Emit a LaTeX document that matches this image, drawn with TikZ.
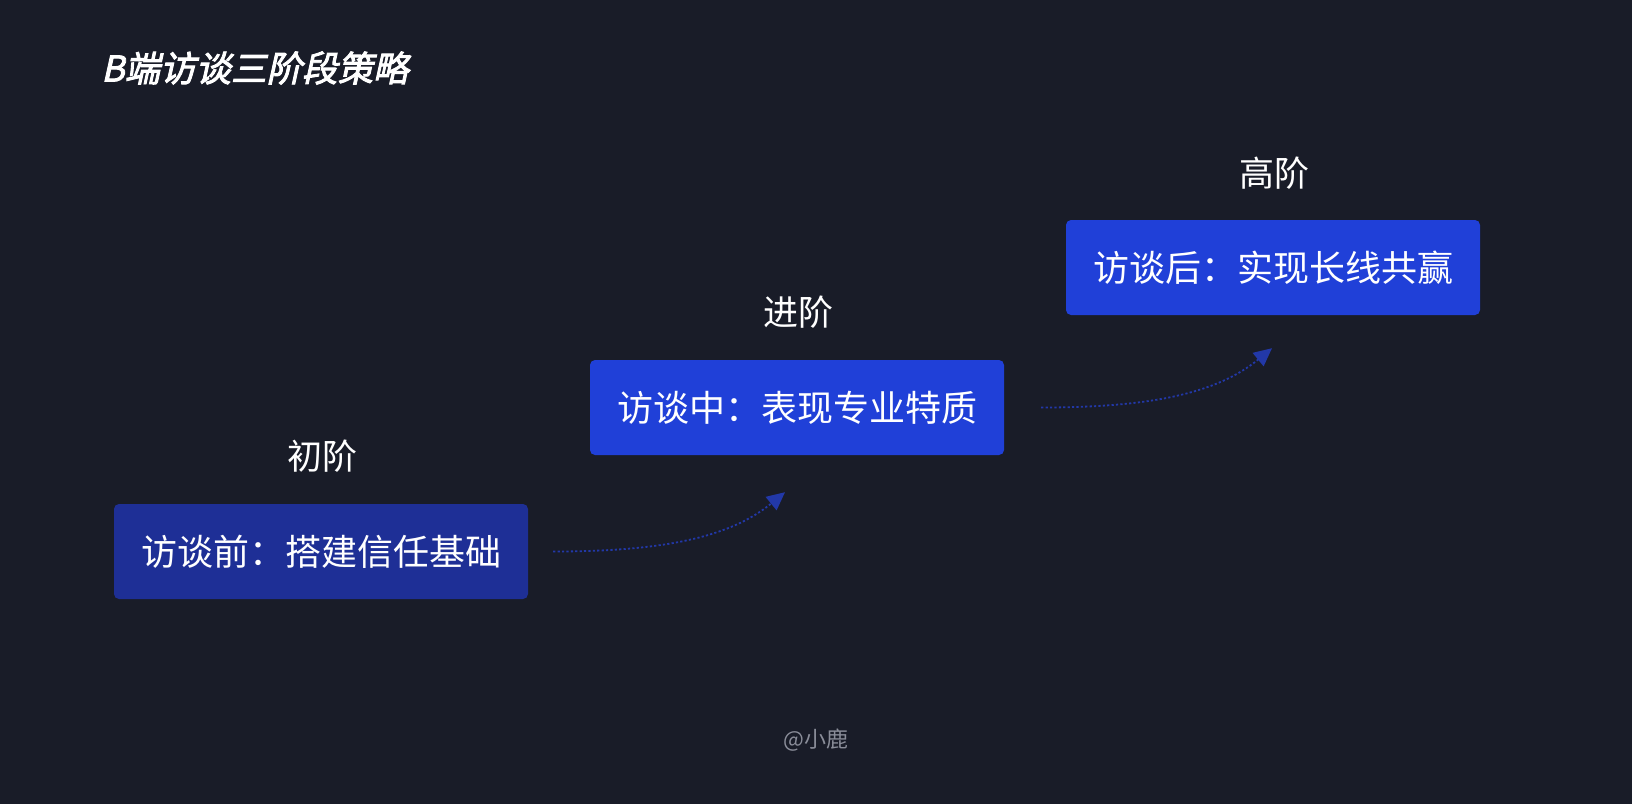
\documentclass[tikz,border=0pt]{standalone}
\usepackage{fontspec}
\usetikzlibrary{arrows.meta}
\newfontfamily\cjk{Noto Sans CJK SC}
\newfontfamily\cjktitle[FakeSlant=0.22,FakeBold=2.5]{Noto Sans CJK SC}
\definecolor{bgc}{HTML}{191C28}
\definecolor{boxdark}{HTML}{1E2F96}
\definecolor{boxblue}{HTML}{2040D8}
\definecolor{arrc}{HTML}{2238A8}
\definecolor{wm}{HTML}{8A8D99}
\tikzset{
  stagebox/.style={fill=boxblue, rounded corners=5pt, minimum width=414pt, minimum height=95pt, inner sep=0pt,
    text=white, font=\cjk\fontsize{36}{40}\selectfont},
  stagelabel/.style={text=white, font=\cjk\fontsize{35}{40}\selectfont, inner sep=0pt},
  flow/.style={draw=arrc, line width=1.8pt, dash pattern=on 2.2pt off 2.2pt,
    -{Triangle[length=18pt,width=17pt]}, arrc},
}
\begin{document}
\begin{tikzpicture}[x=1pt,y=-1pt]
\fill[bgc] (0,0) rectangle (1632,804);
\useasboundingbox (0,0) rectangle (1632,804);
\node[anchor=west, text=white, inner sep=0pt, font=\cjktitle\fontsize{35.5}{40}\selectfont] (title) at (101,68) {B端访谈三阶段策略};
\node[stagebox, fill=boxdark] (b1) at (321,551.5) {访谈前：搭建信任基础};
\node[stagebox] (b2) at (797,407.5) {访谈中：表现专业特质};
\node[stagebox] (b3) at (1273,267.5) {访谈后：实现长线共赢};
\node[stagelabel] (l1) at (322,456) {初阶};
\node[stagelabel] (l2) at (798,312) {进阶};
\node[stagelabel] (l3) at (1274,173) {高阶};
\coordinate (s1) at ([xshift=25pt]b1.east);
\coordinate (e1) at ([xshift=-12pt,yshift=-37pt]b2.south);
\coordinate (s2) at ([xshift=37pt]b2.east);
\coordinate (e2) at ([xshift=-1pt,yshift=-33pt]b3.south);
\draw[flow] (s1) .. controls +(110,0) and +(-55,45) .. (e1);
\draw[flow] (s2) .. controls +(110,0) and +(-55,45) .. (e2);
\node[text=wm, font=\cjk\fontsize{22}{24}\selectfont, inner sep=0pt] (wmark) at (816,740) {@小鹿};
\end{tikzpicture}
\end{document}
